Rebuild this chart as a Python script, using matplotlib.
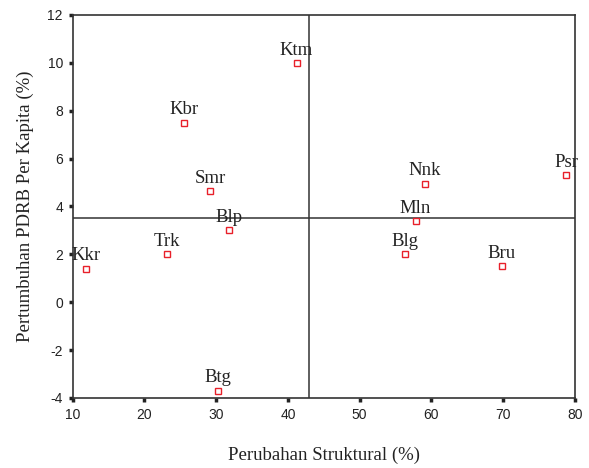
import matplotlib.pyplot as plt

plt.rcParams['axes.unicode_minus'] = False

# Data
regions = ['Ktm', 'Kbr', 'Smr', 'Blp', 'Trk', 'Kkr', 'Btg', 'Nnk', 'Psr', 'Mln', 'Blg', 'Bru']
struktural = [41.2, 25.5, 29.2, 31.8, 23.1, 11.8, 30.2, 59.1, 78.8, 57.8, 56.3, 69.8]
pdrb = [10.0, 7.5, 4.65, 3.0, 2.0, 1.4, -3.7, 4.95, 5.3, 3.4, 2.0, 1.5]
mean_x = 42.9
mean_y = 3.5
xticks = [10, 20, 30, 40, 50, 60, 70, 80]
yticks = [-4, -2, 0, 2, 4, 6, 8, 10, 12]

fig = plt.figure(figsize=(5.89, 4.68), dpi=100)
ax = fig.add_axes([0.1234, 0.1496, 0.8526, 0.8184])

ax.plot(struktural, pdrb, linestyle='none', marker='s', markersize=4.3,
        markerfacecolor='white', markeredgecolor='#e8202a', markeredgewidth=1.0, zorder=3)
for name, x, y in zip(regions, struktural, pdrb):
    ax.annotate(name, (x, y), xytext=(0, 6), textcoords='offset points',
                ha='center', va='baseline', fontsize=13.5,
                family='Liberation Serif', color='#222222')

ax.axvline(mean_x, color='#333333', linewidth=1.1, zorder=1)
ax.axhline(mean_y, color='#333333', linewidth=1.1, zorder=1)

ax.set_xlim(10, 80)
ax.set_ylim(-4, 12)
ax.set_xticks(xticks)
ax.set_yticks(yticks)
for s in ax.spines.values():
    s.set_color('#333333')
    s.set_linewidth(1.2)
ax.tick_params(direction='out', length=3, width=2.5, color='#222222',
               labelsize=10, labelcolor='#222222', pad=4)
for lab in ax.get_xticklabels() + ax.get_yticklabels():
    lab.set_family('Liberation Sans')

ax.set_xlabel('Perubahan Struktural (%)', family='Liberation Serif', fontsize=13.5,
              color='#222222', labelpad=18)
ax.set_ylabel('Pertumbuhan PDRB Per Kapita (%)', family='Liberation Serif', fontsize=13.5,
              color='#222222', labelpad=10)

fig.savefig('out.png', dpi=100)
